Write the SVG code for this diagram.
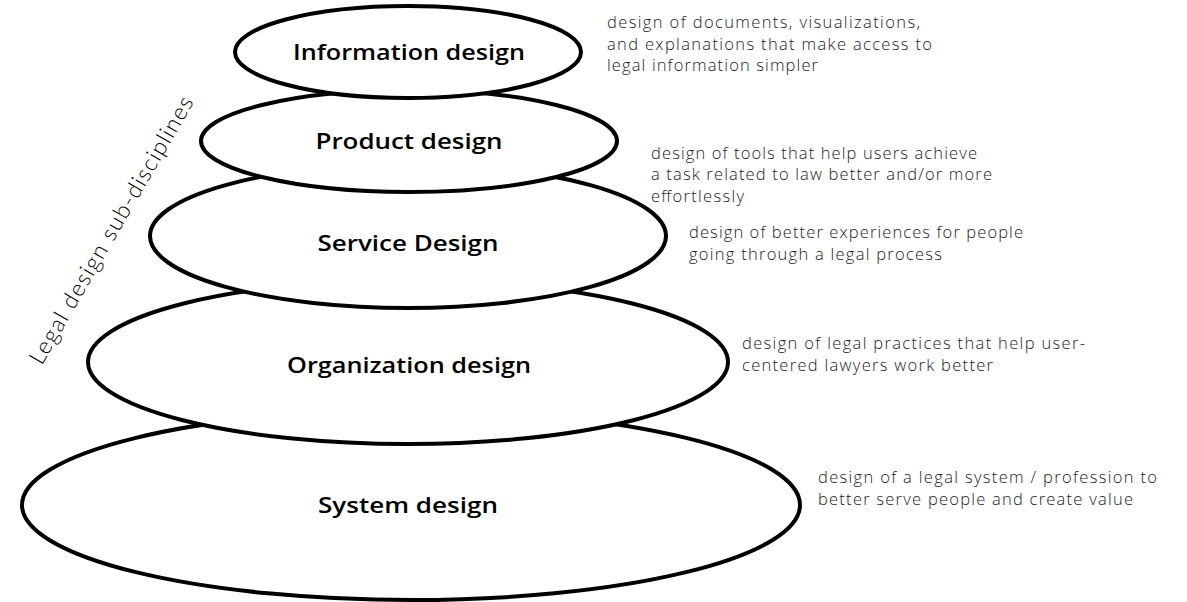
<svg xmlns="http://www.w3.org/2000/svg" width="1187" height="602" viewBox="0 0 1187 602">
<style>
.e{fill:#fff;stroke:#000;stroke-width:4}
.t{font-family:"Open Sans","Noto Sans",sans-serif;font-weight:600;font-size:22px;fill:#000;text-anchor:middle}
.d{font-family:"Open Sans","Noto Sans",sans-serif;font-weight:300;font-size:16.5px;fill:#222}
.s{font-family:Lato,"Noto Sans",sans-serif;font-weight:300;font-size:23px;fill:#000;text-anchor:middle}
</style>
<rect width="1187" height="602" fill="#fff"/>
<g id="system"><ellipse class="e" cx="411" cy="505" rx="389" ry="95"/><text class="t" x="408" y="513" textLength="180" lengthAdjust="spacingAndGlyphs">System design</text></g>
<g id="organization"><ellipse class="e" cx="408" cy="362" rx="320" ry="82"/><text class="t" x="409" y="373" textLength="244" lengthAdjust="spacingAndGlyphs">Organization design</text></g>
<g id="service"><ellipse class="e" cx="408" cy="236" rx="258" ry="72"/><text class="t" x="408" y="251" textLength="181" lengthAdjust="spacingAndGlyphs">Service Design</text></g>
<g id="product"><ellipse class="e" cx="409" cy="141" rx="208" ry="51"/><text class="t" x="409" y="149" textLength="187" lengthAdjust="spacingAndGlyphs">Product design</text></g>
<g id="information"><ellipse class="e" cx="408" cy="52" rx="173" ry="46"/><text class="t" x="409" y="60" textLength="232" lengthAdjust="spacingAndGlyphs">Information design</text></g>
<g id="descriptions">
<text class="d" x="607" y="28" textLength="313">design of documents, visualizations,</text>
<text class="d" x="607" y="50" textLength="325">and explanations that make access to</text>
<text class="d" x="607" y="71" textLength="211">legal information simpler</text>
<text class="d" x="651" y="159" textLength="326">design of tools that help users achieve</text>
<text class="d" x="651" y="180" textLength="341">a task related to law better and/or more</text>
<text class="d" x="651" y="202" textLength="93">effortlessly</text>
<text class="d" x="689" y="238" textLength="334">design of better experiences for people</text>
<text class="d" x="689" y="260" textLength="253">going through a legal process</text>
<text class="d" x="742" y="349" textLength="343">design of legal practices that help user-</text>
<text class="d" x="742" y="371" textLength="251">centered lawyers work better</text>
<text class="d" x="818" y="483" textLength="339">design of a legal system / profession to</text>
<text class="d" x="818" y="505" textLength="315">better serve people and create value</text>
</g>
<g id="connectors"></g>
<g id="axis-label"><text class="s" transform="translate(111,230) rotate(-60)" y="8" textLength="305">Legal design sub-disciplines</text></g>
</svg>
